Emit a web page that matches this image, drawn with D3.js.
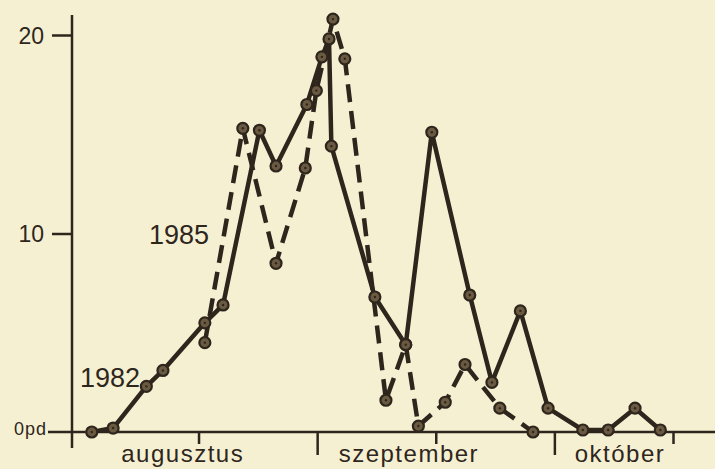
<!DOCTYPE html>
<html>
<head>
<meta charset="utf-8">
<script src="https://cdn.jsdelivr.net/npm/d3@7"></script>
<style>
  html, body { margin: 0; padding: 0; background: #f6f0d3; }
  svg { display: block; }
  text { font-family: "Liberation Sans", Arial, sans-serif; fill: #2e261c; }
</style>
</head>
<body>
<svg id="chart" width="715" height="469"></svg>
<script>
// Days counted from 1 August; values are daily counts.
const days1982 = [2.5, 5.2, 9.4, 11.5, 16.8, 19.1, 23.7, 25.8, 29.7, 31.6, 32.5, 32.8, 38.3, 42.2, 45.5, 50.3, 53.1, 56.7, 60.2, 64.6, 67.8, 71.2, 74.4];
const values1982 = [0, 0.2, 2.3, 3.1, 5.5, 6.4, 15.2, 13.4, 16.5, 18.9, 19.8, 14.4, 6.8, 4.4, 15.1, 6.9, 2.5, 6.1, 1.2, 0.1, 0.1, 1.2, 0.1];

const days1985 = [16.8, 21.6, 25.8, 29.5, 30.9, 33.0, 34.5, 39.7, 42.2, 43.8, 47.2, 49.7, 54.1, 58.3];
const values1985 = [4.5, 15.3, 8.5, 13.3, 17.2, 20.8, 18.8, 1.6, 4.4, 0.3, 1.5, 3.4, 1.2, 0];

const yTickValues = [0, 10, 20];
const yTickLabels = ["0pd", "10", "20"];
const monthStartDays = [0, 31, 61];
const midMonthDays = [16, 46, 76];
const monthNames = ["augusztus", "szeptember", "október"];
const monthLabelDays = [14, 42.6, 69.3];
const seriesNames = ["1982", "1985"];

const ink = "#2e261c";
const svg = d3.select("#chart");

const x = d3.scaleLinear().domain([0, 76]).range([72, 673]);
const y = d3.scaleLinear().domain([0, 20]).range([432, 35]);

// x axis: baseline, long month ticks and short mid-month ticks
svg.append("line")
  .attr("x1", 48).attr("x2", 715)
  .attr("y1", y(0)).attr("y2", y(0))
  .attr("stroke", ink).attr("stroke-width", 2.5);

const longTicks = svg.append("g")
  .attr("transform", `translate(0,${y(0)})`)
  .call(d3.axisBottom(x).tickValues(monthStartDays.slice(1)).tickSize(23).tickFormat(""));
const shortTicks = svg.append("g")
  .attr("transform", `translate(0,${y(0)})`)
  .call(d3.axisBottom(x).tickValues(midMonthDays).tickSize(12).tickFormat(""));
[longTicks, shortTicks].forEach(g => {
  g.select(".domain").remove();
  g.selectAll(".tick line").attr("stroke", ink).attr("stroke-width", 2.5);
});

// y axis
svg.append("line")
  .attr("x1", x(0)).attr("x2", x(0))
  .attr("y1", 15).attr("y2", 448)
  .attr("stroke", ink).attr("stroke-width", 2.5);

const yAxis = svg.append("g")
  .attr("transform", `translate(${x(0)},0)`)
  .call(d3.axisLeft(y).tickValues(yTickValues).tickSize(20).tickPadding(7)
    .tickFormat((d, i) => yTickLabels[i]));
yAxis.select(".domain").remove();
yAxis.selectAll(".tick line").attr("stroke", ink).attr("stroke-width", 2.5)
  .attr("x2", d => d === 0 ? 0 : -20);
yAxis.selectAll(".tick text")
  .attr("fill", ink)
  .style("font-size", d => d === 0 ? "18px" : "23px")
  .attr("x", d => d === 0 ? -25 : -28)
  .attr("letter-spacing", d => d === 0 ? "1px" : "0px")
  .attr("dy", d => d === 0 ? "0.15em" : "0.36em");

// month names
svg.append("g").selectAll("text")
  .data(monthNames)
  .join("text")
  .attr("x", (d, i) => x(monthLabelDays[i]))
  .attr("y", 462)
  .attr("text-anchor", "middle")
  .attr("letter-spacing", "1.5px")
  .style("font-size", "24px")
  .text(d => d);

// series
const line = d3.line().x(d => x(d[0])).y(d => y(d[1]));
const pts1982 = days1982.map((d, i) => [d, values1982[i]]);
const pts1985 = days1985.map((d, i) => [d, values1985[i]]);

svg.append("path").datum(pts1985)
  .attr("d", line).attr("fill", "none")
  .attr("stroke", ink).attr("stroke-width", 4.5)
  .attr("stroke-dasharray", "18,9")
  .attr("stroke-linejoin", "round");

svg.append("path").datum(pts1982)
  .attr("d", line).attr("fill", "none")
  .attr("stroke", ink).attr("stroke-width", 4.5)
  .attr("stroke-linejoin", "round");

function markers(pts) {
  const g = svg.append("g");
  g.selectAll("circle.m").data(pts).join("circle")
    .attr("class", "m")
    .attr("cx", d => x(d[0])).attr("cy", d => y(d[1]))
    .attr("r", 5.5).attr("fill", "#6b5a42")
    .attr("stroke", ink).attr("stroke-width", 2.2);
  g.selectAll("circle.c").data(pts).join("circle")
    .attr("class", "c")
    .attr("cx", d => x(d[0])).attr("cy", d => y(d[1]))
    .attr("r", 1.2).attr("fill", ink);
}
markers(pts1985);
markers(pts1982);

// series labels
svg.append("text").attr("x", 179).attr("y", 244)
  .attr("text-anchor", "middle").style("font-size", "27px").text(seriesNames[1]);
svg.append("text").attr("x", 110).attr("y", 387)
  .attr("text-anchor", "middle").style("font-size", "27px").text(seriesNames[0]);
</script>
</body>
</html>
